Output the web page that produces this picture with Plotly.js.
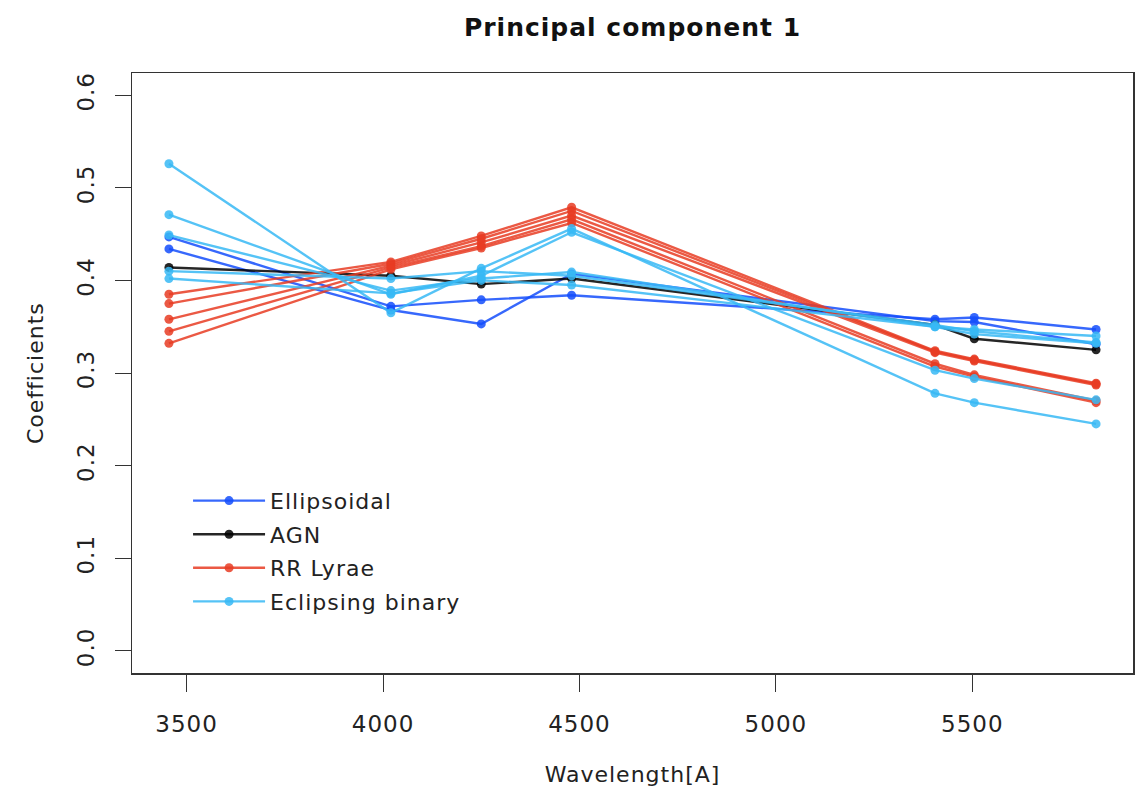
<!DOCTYPE html>
<html>
<head>
<meta charset="utf-8">
<script src="https://cdn.plot.ly/plotly-3.0.1.min.js"></script>
<style>
  html, body { margin: 0; padding: 0; background: #fff; }
  #chart { width: 1138px; height: 791px; }
  svg text { letter-spacing: 1px; }
</style>
</head>
<body>
<div id="chart"></div>
<script>
// Filter wavelengths (Angstrom)
const wavelengths = [3455, 4020, 4250, 4480, 5405, 5505, 5815];

// First principal component coefficients, one array per light curve
const ellipsoidal = [
  [0.447, 0.372, 0.379, 0.384, 0.358, 0.360, 0.347],
  [0.434, 0.368, 0.353, 0.407, 0.356, 0.355, 0.331]
];
const agn = [
  [0.414, 0.405, 0.396, 0.402, 0.352, 0.337, 0.325]
];
const rrLyrae = [
  [0.385, 0.420, 0.448, 0.479, 0.324, 0.315, 0.289],
  [0.375, 0.418, 0.445, 0.475, 0.323, 0.314, 0.288],
  [0.358, 0.416, 0.441, 0.470, 0.322, 0.313, 0.287],
  [0.345, 0.414, 0.437, 0.466, 0.310, 0.298, 0.270],
  [0.332, 0.412, 0.435, 0.462, 0.307, 0.296, 0.268]
];
const eclipsingBinary = [
  [0.526, 0.365, 0.413, 0.456, 0.278, 0.268, 0.245],
  [0.471, 0.385, 0.405, 0.452, 0.303, 0.294, 0.271],
  [0.449, 0.389, 0.402, 0.409, 0.350, 0.347, 0.340],
  [0.410, 0.402, 0.410, 0.405, 0.352, 0.345, 0.333],
  [0.402, 0.386, 0.400, 0.395, 0.350, 0.342, 0.332]
];

const classNames = ["Ellipsoidal", "AGN", "RR Lyrae", "Eclipsing binary"];
const classData = [ellipsoidal, agn, rrLyrae, eclipsingBinary];
const classColors = [
  "rgba(20, 78, 252, 0.85)",
  "rgba(0, 0, 0, 0.85)",
  "rgba(232, 60, 35, 0.85)",
  "rgba(55, 185, 245, 0.85)"
];

const traces = [];
classData.forEach((group, gi) => {
  group.forEach((values, si) => {
    traces.push({
      type: "scatter",
      mode: "lines+markers",
      x: wavelengths,
      y: values,
      name: classNames[gi],
      legendgroup: classNames[gi],
      showlegend: si === 0,
      line: { color: classColors[gi], width: 2.4 },
      marker: { color: classColors[gi], size: 9 },
      hoverinfo: "x+y+name"
    });
  });
});

const font = "DejaVu Sans, Liberation Sans, Arial, sans-serif";
const textColor = "#222";

const layout = {
  width: 1138,
  height: 791,
  margin: { l: 132, r: 5, t: 73, b: 118, pad: 0 },
  paper_bgcolor: "#ffffff",
  plot_bgcolor: "#ffffff",
  font: { family: font, size: 22, color: textColor },
  title: {
    text: "<b>Principal component 1</b>",
    font: { family: font, size: 25, color: "#111" },
    x: 0.5, xref: "paper", xanchor: "center",
    y: 1 - 27 / 791, yref: "container", yanchor: "middle"
  },
  xaxis: {
    range: [3361, 5909],
    tickvals: [3500, 4000, 4500, 5000, 5500],
    ticktext: ["3500", "4000", "4500", "5000", "5500"],
    ticks: "outside", ticklen: 17, tickwidth: 1, tickcolor: "#333",
    showline: true, mirror: true, linecolor: "#333", linewidth: 1.5,
    showgrid: false, zeroline: false,
    tickfont: { family: font, size: 23, color: textColor },
    ticklabelstandoff: 13,
    title: { text: "Wavelength[A]", font: { family: font, size: 22, color: textColor }, standoff: 30 }
  },
  yaxis: {
    range: [-0.024, 0.624],
    tickvals: [0, 0.1, 0.2, 0.3, 0.4, 0.5, 0.6],
    ticktext: ["0.0", "0.1", "0.2", "0.3", "0.4", "0.5", "0.6"],
    tickangle: -90,
    ticks: "outside", ticklen: 16, tickwidth: 1, tickcolor: "#333",
    showline: true, mirror: true, linecolor: "#333", linewidth: 1.5,
    showgrid: false, zeroline: false,
    tickfont: { family: font, size: 23, color: textColor },
    ticklabelstandoff: 11
  },
  annotations: [{
    text: "Coefficients",
    xref: "paper", yref: "paper",
    x: (35 - 132) / 1001, y: 0.5,
    xanchor: "center", yanchor: "middle",
    textangle: -90, showarrow: false,
    font: { family: font, size: 22, color: textColor }
  }],
  showlegend: true,
  legend: {
    x: 0.056, xanchor: "left",
    y: 0.322, yanchor: "top",
    bgcolor: "rgba(0,0,0,0)",
    borderwidth: 0,
    font: { family: font, size: 22, color: textColor },
    itemwidth: 72,
    tracegroupgap: 2
  }
};

Plotly.newPlot("chart", traces, layout, { displayModeBar: false, staticPlot: true });
</script>
</body>
</html>
